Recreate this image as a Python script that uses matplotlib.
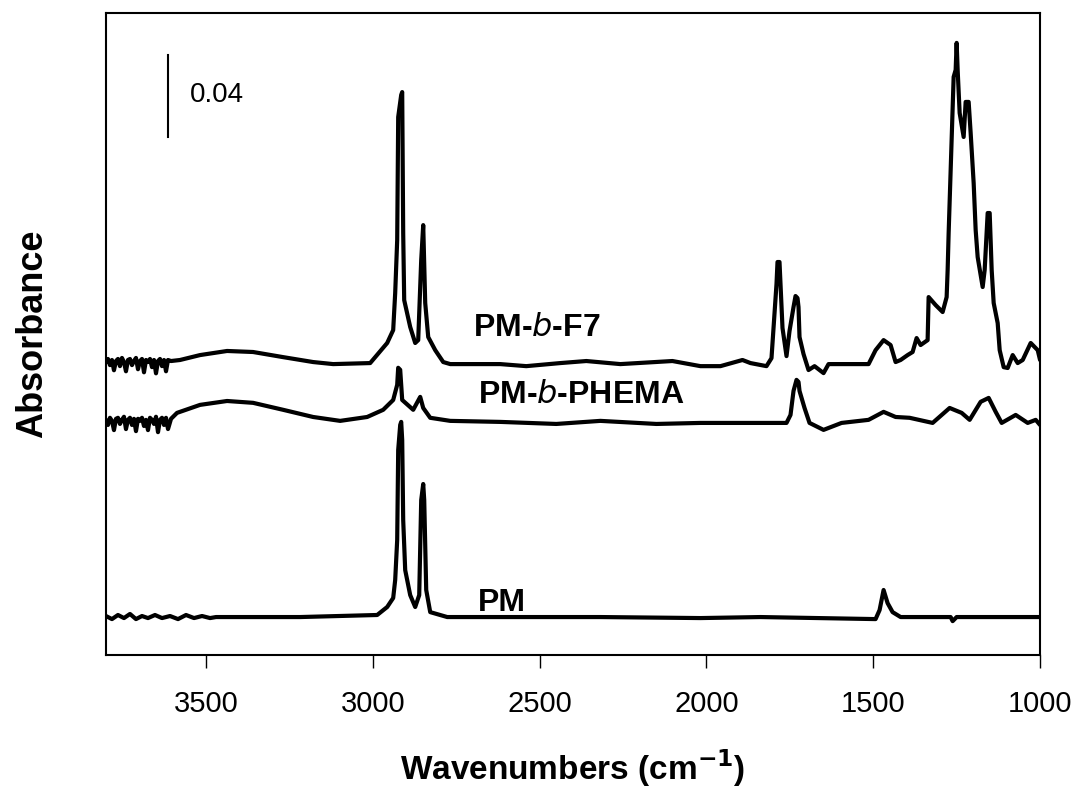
import matplotlib
matplotlib.use("Agg")
import matplotlib.pyplot as plt

plt.rcParams["font.family"] = ["Liberation Sans", "DejaVu Sans"]

# spectra: wavenumber (cm-1) and absorbance above own baseline
f7_wn = [3800, 3794, 3788, 3782, 3776, 3770, 3764, 3758, 3752, 3746, 3740, 3734, 3728,
         3722, 3716, 3710, 3704, 3698, 3692, 3686, 3680, 3674, 3668, 3662, 3656, 3650,
         3644, 3638, 3632, 3626, 3620, 3614, 3605, 3578, 3518, 3437, 3359, 3269, 3179,
         3119, 3008, 2957, 2939, 2933, 2927, 2924, 2915, 2912, 2909, 2906, 2888, 2873,
         2864, 2855, 2849, 2843, 2834, 2813, 2789, 2768, 2618, 2540, 2438, 2360, 2258,
         2102, 2018, 1958, 1892, 1868, 1820, 1805, 1799, 1790, 1787, 1781, 1778, 1772,
         1760, 1751, 1739, 1733, 1727, 1724, 1721, 1709, 1694, 1676, 1649, 1634, 1514,
         1493, 1469, 1448, 1433, 1418, 1397, 1382, 1370, 1358, 1337, 1334, 1313, 1292,
         1280, 1277, 1274, 1268, 1259, 1253, 1250, 1247, 1241, 1229, 1223, 1214, 1208,
         1199, 1193, 1187, 1172, 1166, 1157, 1151, 1145, 1139, 1127, 1121, 1109, 1097,
         1082, 1067, 1052, 1028, 1007, 1000]
f7_abs = [0.0005, 0.0020, -0.0010, 0.0015, -0.0035, 0.0010, 0.0020, -0.0015, 0.0025,
          0.0005, -0.0040, 0.0015, 0.0020, -0.0010, 0.0010, 0.0025, -0.0030, 0.0010,
          0.0020, -0.0045, 0.0015, 0.0005, 0.0020, -0.0020, 0.0015, -0.0050, 0.0010,
          0.0020, -0.0015, 0.0015, -0.0040, 0.0015, 0.0010,
          0.0015, 0.0039, 0.0059, 0.0054, 0.0029, 0.0005, -0.0005, 0.0, 0.0098, 0.0161,
          0.0342, 0.0600, 0.1200, 0.1308, 0.1322, 0.0634, 0.0307, 0.0176, 0.0098, 0.0112,
          0.0503, 0.0673, 0.0293, 0.0127, 0.0063, 0.0005, -0.0005, -0.0005, -0.0015,
          0.0, 0.0010, -0.0005, 0.0010, -0.0015, -0.0015, 0.0015, 0.0, -0.0015, 0.0024,
          0.0171, 0.0386, 0.0493, 0.0493, 0.0386, 0.0171, 0.0034, 0.0156, 0.0273, 0.0327,
          0.0317, 0.0273, 0.0127, 0.0044, -0.0034, -0.0015, -0.0049, -0.0005, -0.0005,
          0.0063, 0.0112, 0.0088, 0.0005, 0.0015, 0.0039, 0.0054, 0.0122, 0.0088, 0.0112,
          0.0322, 0.0283, 0.0249, 0.0322, 0.0454, 0.0634, 0.0942, 0.1396, 0.1430, 0.1562,
          0.1430, 0.1220, 0.1103, 0.1274, 0.1274, 0.1122, 0.0878, 0.0649, 0.0517, 0.0371,
          0.0454, 0.0732, 0.0732, 0.0454, 0.0293, 0.0195, 0.0063, -0.0020, -0.0024,
          0.0039, 0.0, 0.0015, 0.0098, 0.0063, 0.0015]

phema_wn = [3800, 3794, 3788, 3782, 3776, 3770, 3764, 3758, 3752, 3746, 3740, 3734, 3728,
            3722, 3716, 3710, 3704, 3698, 3692, 3686, 3680, 3674, 3668, 3662, 3656, 3650,
            3644, 3638, 3632, 3626, 3620, 3614, 3605, 3587, 3518, 3437, 3359, 3269, 3179,
            3098, 3017, 2969, 2939, 2927, 2924, 2918, 2912, 2879, 2858, 2849, 2828, 2768,
            2618, 2450, 2318, 2150, 2018, 1760, 1748, 1739, 1730, 1724, 1721, 1706, 1691,
            1649, 1595, 1514, 1469, 1433, 1391, 1322, 1271, 1235, 1211, 1178, 1154, 1133,
            1115, 1073, 1037, 1013, 1000]
phema_abs = [0.0010, -0.0015, 0.0020, 0.0005, -0.0040, 0.0015, 0.0020, -0.0010, 0.0010,
             0.0025, -0.0035, 0.0010, 0.0020, -0.0015, 0.0015, -0.0045, 0.0015, 0.0005,
             0.0020, -0.0020, 0.0010, -0.0040, 0.0020, 0.0010, -0.0010, 0.0025, -0.0050,
             0.0010, 0.0020, -0.0015, 0.0020, -0.0035, 0.0015,
             0.0044, 0.0083, 0.0102, 0.0093, 0.0059, 0.0024, 0.0005, 0.0024, 0.0059,
             0.0107, 0.0181, 0.0264, 0.0254, 0.0107, 0.0059, 0.0122, 0.0068, 0.0020,
             0.0005, 0.0, -0.0010, 0.0005, -0.0010, -0.0005, -0.0005, 0.0034, 0.0151,
             0.0205, 0.0195, 0.0151, 0.0068, -0.0005, -0.0039, -0.0005, 0.0010, 0.0049,
             0.0024, 0.0020, -0.0005, 0.0068, 0.0044, 0.0010, 0.0098, 0.0117, 0.0049,
             -0.0005, 0.0034, -0.0005, 0.0010, -0.0015]

pm_wn = [3800, 3782, 3764, 3746, 3728, 3710, 3692, 3674, 3653, 3632, 3608, 3584, 3560,
         3536, 3512, 3488, 3470, 3218, 2987, 2957, 2939, 2933, 2927, 2924, 2918, 2915,
         2912, 2909, 2903, 2888, 2873, 2861, 2855, 2849, 2846, 2840, 2828, 2777, 2318,
         2018, 1838, 1493, 1481, 1469, 1457, 1442, 1418, 1268, 1262, 1250, 1000]
pm_abs = [0.0005, -0.0010, 0.0010, -0.0005, 0.0015, -0.0010, 0.0005, -0.0005, 0.0010,
          -0.0005, 0.0005, -0.0010, 0.0010, -0.0005, 0.0005, -0.0005, 0.0, 0.0, 0.0010,
          0.0049, 0.0093, 0.0181, 0.0376, 0.0815, 0.0937, 0.0952, 0.0864, 0.0473, 0.0229,
          0.0107, 0.0049, 0.0107, 0.0571, 0.0649, 0.0571, 0.0132, 0.0024, 0.0, 0.0,
          -0.0005, 0.0, -0.0010, 0.0034, 0.0132, 0.0068, 0.0024, 0.0, 0.0, -0.0020, 0.0,
          0.0]

names = ["PM-$\\mathit{b}$-F7", "PM-$\\mathit{b}$-PHEMA", "PM"]
offsets = [0.1424, 0.1137, 0.0185]

fig = plt.figure(figsize=(10.79, 8.10), dpi=100)
ax = fig.add_axes([0.0982, 0.1914, 0.8657, 0.7926])

for wn, ab, off in zip([f7_wn, phema_wn, pm_wn], [f7_abs, phema_abs, pm_abs], offsets):
    ax.plot(wn, [a + off for a in ab], color="black", lw=3.0,
            solid_joinstyle="round", solid_capstyle="round")

ax.text(2699, 0.1595, names[0], fontsize=23, fontweight="bold", va="center")
ax.text(2684, 0.1268, names[1], fontsize=23, fontweight="bold", va="center")
ax.text(2684, 0.0254, names[2], fontsize=23, fontweight="bold", va="center")

# 0.04 scale bar
ax.plot([3614, 3614], [0.2527, 0.2927], color="black", lw=1.5)
ax.text(3548, 0.2732, "0.04", fontsize=20, va="center")

ax.set_xlim(3800, 1000)
ax.set_ylim(0, 0.3132)
ax.set_xticks([3500, 3000, 2500, 2000, 1500, 1000])
ax.set_yticks([])
ax.tick_params(axis="x", direction="out", length=9, width=1, pad=16, labelsize=21)
for s in ax.spines.values():
    s.set_linewidth(1.5)

ax.set_xlabel("Wavenumbers (cm$^{\\mathbf{-1}}$)", fontsize=24, fontweight="bold", labelpad=21)
ax.set_ylabel("Absorbance", fontsize=26, fontweight="bold", labelpad=40)

fig.savefig("out.png", dpi=100)
